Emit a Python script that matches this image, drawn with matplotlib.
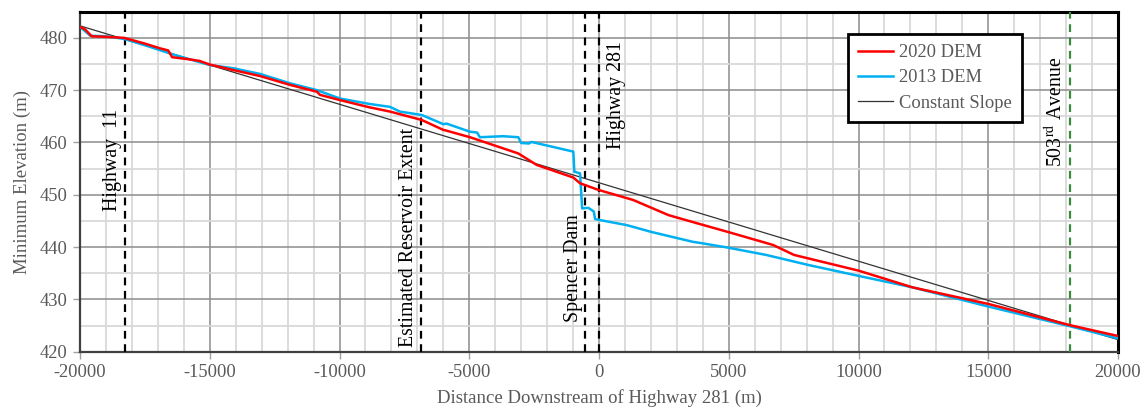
import matplotlib
matplotlib.use("Agg")
import matplotlib.pyplot as plt
from matplotlib.ticker import MultipleLocator

plt.rcParams['font.family'] = ['Liberation Serif', 'DejaVu Serif']
plt.rcParams['mathtext.fontset'] = 'stix'
plt.rcParams['axes.unicode_minus'] = False

# ---- data ----
dem2020_x = [-20000, -19800, -19550, -19000, -18300, -17500, -16920, -16600, -16450,
             -15800, -15400, -15000, -14100, -13060, -11900, -10870, -10750, -9980,
             -8825, -8050, -6830, -6000, -5870, -4970, -3110, -2400, -990, -730,
             -90, 0, 1320, 2684, 3890, 4965, 6710, 7515, 10000, 12080, 15030,
             18120, 20000]
dem2020_y = [482.1, 481.6, 480.3, 480.2, 480.0, 478.9, 478.0, 477.6, 476.3,
             475.9, 475.6, 474.9, 473.85, 472.7, 471.0, 469.7, 469.1, 468.1,
             466.7, 465.9, 464.3, 462.4, 462.25, 461.0, 457.9, 455.7, 453.3, 452.2,
             451.05, 450.9, 449.0, 446.1, 444.4, 442.9, 440.4, 438.5, 435.5, 432.3, 429.1,
             425.1, 423.0]

dem2013_x = [-20000, -19600, -19000, -18300, -17500, -16340, -15000, -14100, -13060,
             -11900, -10870, -9980, -8825, -8050, -7670, -6830, -6000, -5870, -4970,
             -4700, -4590, -3700, -3110, -3000, -2700, -2600, -990, -950, -730, -650,
             -410, -200, -150, 0, 1070, 2013, 3623, 3890, 4965, 6440, 8050, 10000,
             12080, 15030, 18120, 20000]
dem2013_y = [482.1, 480.4, 480.3, 479.8, 478.6, 476.7, 474.8, 474.2, 473.1,
             471.3, 470.0, 468.4, 467.35, 466.8, 465.9, 465.25, 463.5, 463.6, 462.05,
             461.9, 461.0, 461.2, 461.0, 459.9, 459.8, 460.1, 458.25, 454.4, 454.1, 447.4,
             447.5, 446.8, 445.35, 445.2, 444.2, 442.9, 441.0, 440.8, 439.9, 438.5, 436.6, 434.5,
             432.3, 428.6, 424.9, 422.55]

slope_x = [-20000, 20000]
slope_y = [482.3, 422.3]

markers_x = [-18250, -6860, -540, 0, 18150]
markers_label = ["Highway  11", "Estimated Reservoir Extent", "Spencer Dam",
                 "Highway 281", "503$^{\\mathrm{rd}}$ Avenue"]
markers_color = ["black", "black", "black", "black", "#3a8a3e"]
label_pos_x = [-18750, -7360, -1000, 690, 17610]
label_pos_y = [456.6, 441.9, 436.0, 469.1, 465.8]

# ---- figure ----
fig = plt.figure(figsize=(11.46, 4.13), dpi=100)
ax = fig.add_axes([80/1146, 1-351.7/413, (1118-80)/1146, (351.7-11.7)/413])

ax.set_xlim(-20000, 20000)
ax.set_ylim(420, 485)
ax.xaxis.set_major_locator(MultipleLocator(5000))
ax.xaxis.set_minor_locator(MultipleLocator(1000))
ax.yaxis.set_major_locator(MultipleLocator(10))
ax.yaxis.set_minor_locator(MultipleLocator(5))
ax.set_yticks([420, 430, 440, 450, 460, 470, 480])

ax.grid(which='minor', color='#d9d9d9', linewidth=1.3, zorder=0)
ax.grid(which='major', color='#8c8c8c', linewidth=1.1, zorder=0.5)
ax.set_axisbelow(True)

ax.tick_params(which='major', length=5, width=1, color='#a0a0a0',
               labelsize=13.3, labelcolor='#595959', pad=4)
ax.tick_params(which='minor', length=0)

for s in ['top', 'right']:
    ax.spines[s].set_color('black')
    ax.spines[s].set_linewidth(2.2)
for s in ['left', 'bottom']:
    ax.spines[s].set_color('#404040')
    ax.spines[s].set_linewidth(1.6)

for mx, c in zip(markers_x, markers_color):
    ax.axvline(mx, color=c, linestyle=(0, (3.5, 2.5)), linewidth=1.6, zorder=3)

ax.plot(slope_x, slope_y, color='#333333', linewidth=0.9, label='Constant Slope', zorder=4)
ax.plot(dem2013_x, dem2013_y, color='#00b0f0', linewidth=1.8, label='2013 DEM', zorder=5)
ax.plot(dem2020_x, dem2020_y, color='#ff0000', linewidth=1.8, label='2020 DEM', zorder=6)

for lx, ly, t in zip(label_pos_x, label_pos_y, markers_label):
    ax.text(lx, ly, t, rotation=90, ha='center', va='center', fontsize=14.3,
            color='black', zorder=7)

ax.set_xlabel("Distance Downstream of Highway 281 (m)", fontsize=13.5, color='#595959', labelpad=6)
ax.set_ylabel("Minimum Elevation (m)", fontsize=13.5, color='#595959', labelpad=6)

h, l = ax.get_legend_handles_labels()
order = [2, 1, 0]
leg = ax.legend([h[i] for i in order], [l[i] for i in order],
                loc='upper left', bbox_to_anchor=(848/1146, 1-34/413),
                bbox_transform=fig.transFigure, fontsize=13.3, frameon=True,
                fancybox=False, edgecolor='black', framealpha=1,
                handlelength=1.9, handletextpad=0.3, labelspacing=0.45,
                borderpad=0.55, borderaxespad=0)
leg.get_frame().set_linewidth(2)
for t in leg.get_texts():
    t.set_color('#595959')
leg.set_zorder(10)

fig.savefig("out.png", dpi=100)
